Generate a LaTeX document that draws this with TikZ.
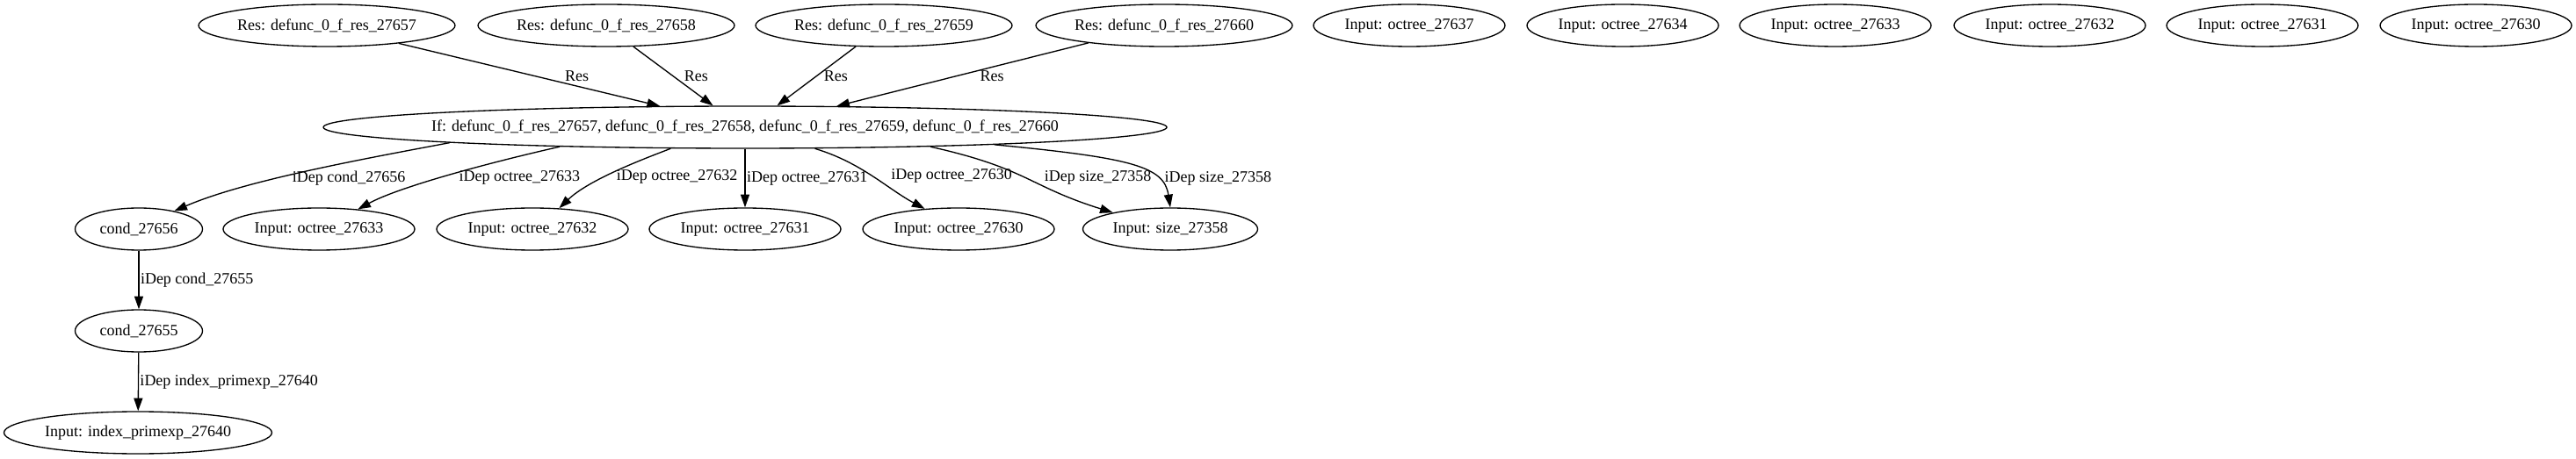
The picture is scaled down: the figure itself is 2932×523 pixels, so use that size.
\documentclass[tikz,border=0pt]{standalone}
\usepackage{fontspec}
\setmainfont{Liberation Serif}
\usetikzlibrary{shapes.geometric, arrows.meta, calc}
\newcommand{\ntext}[1]{\makebox[0pt]{#1}}

\begin{document}
\begin{tikzpicture}[
			x=0.75pt, y=-0.75pt,
			every node/.style={
				font=\fontsize{13.5}{16}\selectfont
			},
			gnode/.style={
				ellipse,
				draw,
				line width=1pt,
				inner sep=0pt,
				minimum height=36pt,
				minimum width=#1
			},
			dep/.style={
				line width=1pt,
				-{Triangle[length=11pt, width=7.5pt]}
			},
			lbl/.style={
				inner sep=1pt
			}
			]
			
			\useasboundingbox (0,0) rectangle (2932,523);
			
			% Res nodes (top row)
			\node[gnode=219pt] (r57) at (372,29) {\ntext{Res: defunc\_0\_f\_res\_27657}};
			\node[gnode=219pt] (r58) at (690,29) {\ntext{Res: defunc\_0\_f\_res\_27658}};
			\node[gnode=219pt] (r59) at (1006,29) {\ntext{Res: defunc\_0\_f\_res\_27659}};
			\node[gnode=219pt] (r60) at (1325,29) {\ntext{Res: defunc\_0\_f\_res\_27660}};
			
			% Unused inputs (top row)
			\node[gnode=163.5pt] (in37) at (1604,29) {\ntext{Input: octree\_27637}};
			\node[gnode=163.5pt] (in34) at (1847,29) {\ntext{Input: octree\_27634}};
			\node[gnode=163.5pt] (in33) at (2089,29) {\ntext{Input: octree\_27633}};
			\node[gnode=163.5pt] (in32) at (2333,29) {\ntext{Input: octree\_27632}};
			\node[gnode=163.5pt] (in31) at (2575,29) {\ntext{Input: octree\_27631}};
			\node[gnode=163.5pt] (in30) at (2818,29) {\ntext{Input: octree\_27630}};
			
			% If node
			\node[gnode=720pt] (ifn) at (848,145) {\ntext{If: defunc\_0\_f\_res\_27657, defunc\_0\_f\_res\_27658, defunc\_0\_f\_res\_27659, defunc\_0\_f\_res\_27660}};
			
			% Dependencies (bottom row)
			\node[gnode=108.75pt] (c56) at (158,261) {\ntext{cond\_27656}};
			\node[gnode=163.5pt] (oc33) at (363,261) {\ntext{Input: octree\_27633}};
			\node[gnode=163.5pt] (oc32) at (606,261) {\ntext{Input: octree\_27632}};
			\node[gnode=163.5pt] (oc31) at (848,261) {\ntext{Input: octree\_27631}};
			\node[gnode=163.5pt] (oc30) at (1091,261) {\ntext{Input: octree\_27630}};
			\node[gnode=149.25pt] (sz) at (1332,261) {\ntext{Input: size\_27358}};
			\node[gnode=108.75pt] (c55) at (158,377) {\ntext{cond\_27655}};
			\node[gnode=228.75pt] (idx) at (157,493) {\ntext{Input: index\_primexp\_27640}};
			
			% Res edges
			\draw[dep] (r57.-14) -- (ifn.166.5) node[lbl, pos=0.63, anchor=south west] {Res};
			\draw[dep] (r58.-38) -- (ifn.146.4) node[lbl, pos=0.5, anchor=west, xshift=8pt] {Res};
			\draw[dep] (r59.217) -- (ifn.34.3) node[lbl, pos=0.5, anchor=west, xshift=5pt] {Res};
			\draw[dep] (r60.193.7) -- (ifn.13.4) node[lbl, pos=0.52, anchor=west, xshift=18pt] {Res};
			
			% iDep edges
			\draw[dep] (ifn.183.05) .. controls (420,180) and (280,205) .. (c56.27)
				node[lbl, pos=0.6, anchor=west, xshift=10pt] {iDep cond\_27656};
			\draw[dep] (ifn.186.4) .. controls (580,180) and (460,210) .. (oc33.27)
				node[lbl, pos=0.5, anchor=west, yshift=-4pt] {iDep octree\_27633};
			\draw[dep] (ifn.196.3) .. controls (730,182) and (670,205) .. (oc32.38)
				node[lbl, pos=0.5, anchor=west, yshift=-4pt] {iDep octree\_27632};
			\draw[dep] (ifn.south) -- (oc31.north)
				node[lbl, midway, anchor=west] {iDep octree\_27631};
			\draw[dep] (ifn.343.3) .. controls (980,185) and (1010,215) .. (oc30.149)
				node[lbl, pos=0.5, anchor=west, xshift=14pt] {iDep octree\_27630};
			\draw[dep] (ifn.354.3) .. controls (1170,192) and (1170,212) .. (sz.164)
				node[lbl, pos=0.5, anchor=west, xshift=14pt] {iDep size\_27358};
			\draw[dep] (ifn.356.4) .. controls (1290,180) and (1325,190) .. (sz.north)
				node[lbl, pos=0.7, anchor=west, xshift=6pt] {iDep size\_27358};
			\draw[dep] (c56) -- (c55) node[lbl, midway, anchor=west] {iDep cond\_27655};
			\draw[dep] (c55) -- (idx) node[lbl, midway, anchor=west] {iDep index\_primexp\_27640};
			
		\end{tikzpicture}
\end{document}
